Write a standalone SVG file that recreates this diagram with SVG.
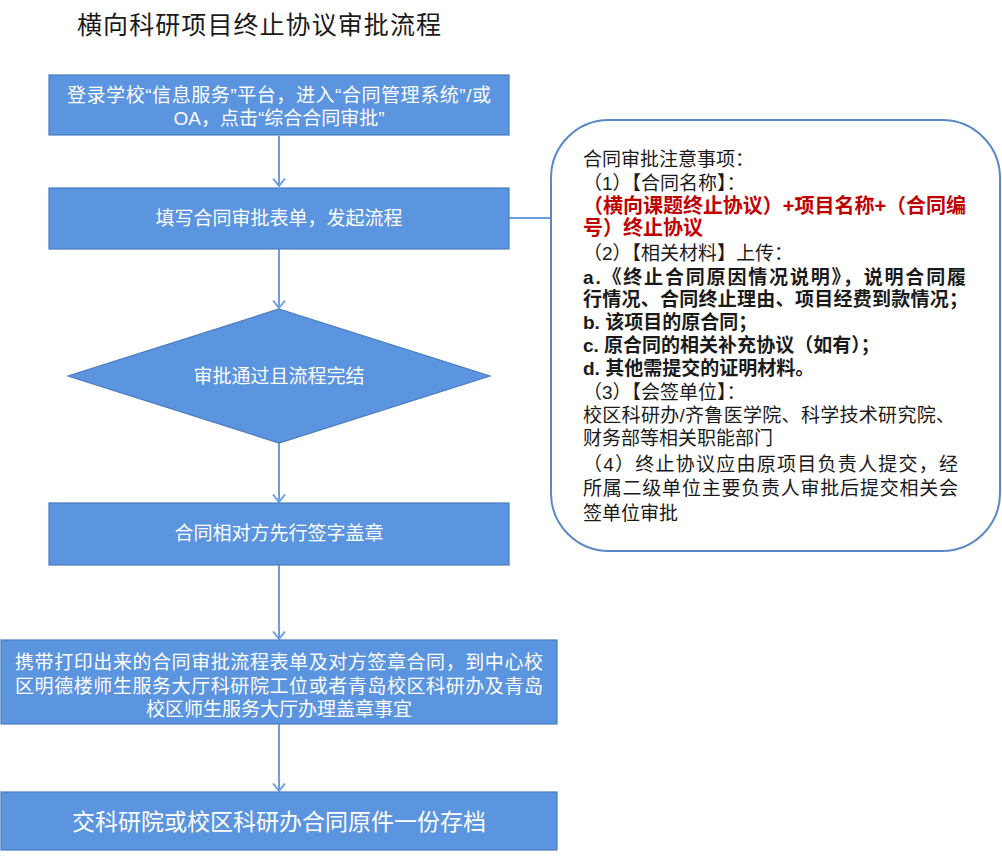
<svg xmlns="http://www.w3.org/2000/svg" width="1002" height="856" viewBox="0 0 1002 856">
<style>
.box{fill:#5b94df;stroke:#4a7cc0;stroke-width:1.2}
.ft{fill:#ffffff;font-family:"Liberation Sans","Noto Sans CJK SC",sans-serif;font-size:19px;text-anchor:middle}
.nt{fill:#1a1a1a;font-family:"Liberation Sans","Noto Sans CJK SC",sans-serif;font-size:19px}
.b{font-weight:bold}
.red{fill:#c00000;font-weight:bold;font-size:20px}
.con{stroke:#6a9ee0;stroke-width:2;fill:none}
</style>
<defs>
<marker id="arr" markerWidth="10" markerHeight="14" refX="8.5" refY="7" orient="auto" markerUnits="userSpaceOnUse" viewBox="0 0 10 14" overflow="visible">
<polyline points="1,1 8.5,7 1,13" fill="none" stroke="#6a9ee0" stroke-width="2"/>
</marker>
</defs>
<rect width="1002" height="856" fill="#ffffff"/>
<text x="77" y="34" style="font-family:'Noto Sans CJK SC',sans-serif;font-size:25px;fill:#1a1a1a" textLength="364">横向科研项目终止协议审批流程</text>

<g id="connectors">
<line class="con" x1="279" y1="136" x2="279" y2="186" marker-end="url(#arr)"/>
<line class="con" x1="279" y1="249" x2="279" y2="308" marker-end="url(#arr)"/>
<line class="con" x1="279" y1="443" x2="279" y2="502" marker-end="url(#arr)"/>
<line class="con" x1="279" y1="565" x2="279" y2="639" marker-end="url(#arr)"/>
<line class="con" x1="279" y1="724" x2="279" y2="791" marker-end="url(#arr)"/>
<line class="con" x1="509" y1="218" x2="551" y2="218"/>
</g>

<g id="n1">
<rect class="box" x="49" y="75" width="460" height="60"/>
<text class="ft" x="279" y="101.5" textLength="424">登录学校“信息服务”平台，进入“合同管理系统”/或</text>
<text class="ft" x="279" y="124.5">OA，点击“综合合同审批”</text>
</g>
<g id="n2">
<rect class="box" x="49" y="188" width="460" height="61"/>
<text class="ft" x="279" y="224.5">填写合同审批表单，发起流程</text>
</g>
<g id="n3">
<polygon class="box" points="279,309 490,376 279,443 68,376"/>
<text class="ft" x="279" y="382.5">审批通过且流程完结</text>
</g>
<g id="n4">
<rect class="box" x="49" y="503" width="460" height="62"/>
<text class="ft" x="279" y="539.5">合同相对方先行签字盖章</text>
</g>
<g id="n5">
<rect class="box" x="1" y="640" width="556" height="84"/>
<text class="ft" x="279" y="668.5" textLength="528">携带打印出来的合同审批流程表单及对方签章合同，到中心校</text>
<text class="ft" x="279" y="692.5" textLength="528">区明德楼师生服务大厅科研院工位或者青岛校区科研办及青岛</text>
<text class="ft" x="279" y="715.5">校区师生服务大厅办理盖章事宜</text>
</g>
<g id="n6">
<rect class="box" x="1" y="792" width="556" height="58"/>
<text class="ft" x="279" y="830" style="font-size:23px">交科研院或校区科研办合同原件一份存档</text>
</g>

<g id="note">
<rect x="551" y="120" width="449" height="431" rx="58" ry="58" fill="#ffffff" stroke="#5b88c4" stroke-width="2"/>
<text class="nt" x="583" y="166">合同审批注意事项：</text>
<text class="nt" x="583" y="190">（1）【合同名称】：</text>
<text class="nt red" x="583" y="213" textLength="383">（横向课题终止协议）+项目名称+（合同编</text>
<text class="nt red" x="583" y="235">号）终止协议</text>
<text class="nt" x="583" y="260">（2）【相关材料】上传：</text>
<text class="nt b" x="583" y="284" textLength="383">a.《终止合同原因情况说明》，说明合同履</text>
<text class="nt b" x="583" y="306" textLength="385">行情况、合同终止理由、项目经费到款情况；</text>
<text class="nt b" x="583" y="329">b. 该项目的原合同；</text>
<text class="nt b" x="583" y="352">c. 原合同的相关补充协议（如有）；</text>
<text class="nt b" x="583" y="375">d. 其他需提交的证明材料。</text>
<text class="nt" x="583" y="399">（3）【会签单位】：</text>
<text class="nt" x="583" y="422" textLength="372">校区科研办/齐鲁医学院、科学技术研究院、</text>
<text class="nt" x="583" y="445">财务部等相关职能部门</text>
<text class="nt" x="583" y="471" textLength="375">（4）终止协议应由原项目负责人提交，经</text>
<text class="nt" x="583" y="495" textLength="375">所属二级单位主要负责人审批后提交相关会</text>
<text class="nt" x="583" y="520">签单位审批</text>
</g>
</svg>
